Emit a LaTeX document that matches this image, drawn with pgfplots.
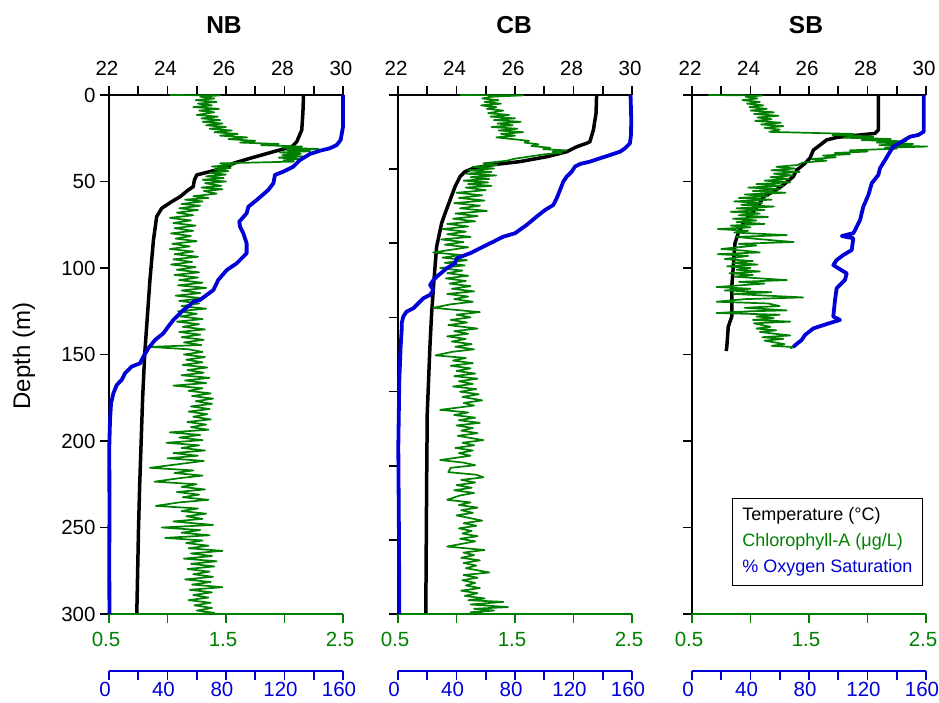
\documentclass[border=0pt]{standalone}
\usepackage{fontspec}
\setmainfont{Liberation Sans}
\usepackage{xcolor}
\usepackage{pgfplots}
\pgfplotsset{compat=1.18}

\definecolor{chl}{RGB}{0,128,0}
\definecolor{oxy}{RGB}{0,0,215}

\pgfplotsset{
  panel/.style={scale only axis, width=234pt, height=519pt,
    ymin=0, ymax=300, y dir=reverse, clip=false,
    /pgf/number format/assume math mode=true,
    tick label style={font=\fontsize{20.5}{24}\selectfont},
    major tick length=9pt, minor tick length=9pt},
  tempax/.style={panel, xmin=22, xmax=30,
    axis x line*=top, axis y line*=left, tick align=outside,
    axis line style={line width=1.8pt, black, -},
    tick style={line width=1.6pt, black},
    xtick={22,24,...,30}, minor xtick={23,25,27,29},
    xticklabel style={yshift=7pt, xshift=-2pt}},
  chlax/.style={panel, xmin=0.5, xmax=2.5,
    axis x line*=bottom, axis y line=none, tick align=outside,
    axis line style={line width=1.8pt, chl, -},
    tick style={line width=1.6pt, chl},
    xtick={0.5,1.5,2.5}, minor xtick={1,2},
    xticklabel style={chl, yshift=-6pt, xshift=-3pt}},
  oxax/.style={panel, xmin=0, xmax=160, hide axis},
  oxscale/.style={scale only axis, width=234pt, height=1pt,
    ymin=0, ymax=1, xmin=0, xmax=160,
    axis x line*=bottom, axis y line=none, tick align=outside,
    axis line style={line width=1.8pt, oxy, -},
    tick style={line width=1.6pt, oxy},
    major tick length=9pt, minor tick length=9pt,
    /pgf/number format/assume math mode=true,
    tick label style={font=\fontsize{20.5}{24}\selectfont},
    xtick={0,40,...,160}, minor xtick={20,60,100,140},
    xticklabel style={oxy, yshift=-1pt, xshift=-4pt, inner sep=1pt}},
  templine/.style={black, line width=3.5pt, line join=round},
  chlline/.style={chl, line width=1.7pt, line join=round},
  oxline/.style={oxy, line width=3.8pt, line join=round},
}

\begin{document}
\begin{tikzpicture}[x=1pt,y=1pt]

%%%%%%%%%%%%%%%% NB %%%%%%%%%%%%%%%%
\begin{axis}[tempax, at={(109pt,89pt)}, anchor=south west,
  ytick={0,50,...,300}, yticklabel style={xshift=-1pt}]
\addplot[templine] table {
28.65 0
28.63 10
28.59 20.2
28.42 27
28.25 29.9
27.62 32.8
26.82 36.6
26.25 39.5
26.02 41.8
25.45 44.3
25.00 46.2
24.92 49.1
24.88 53
24.71 54.9
24.43 58.8
24.14 61.7
23.80 65.5
23.63 70.3
23.52 83.8
23.40 106.9
23.32 126
23.22 150
23.15 175
23.10 200
23.05 225
23.01 250
22.98 275
22.95 300
};
\end{axis}

\begin{axis}[chlax, at={(109pt,89pt)}, anchor=south west]
\addplot[chlline] table {
1.02 0
1.45 0.2
1.28 1
1.40 2
1.24 3
1.42 4
1.26 5
1.38 6
1.22 7
1.44 8
1.27 9
1.40 10
1.25 11.5
1.43 12.5
1.29 13.5
1.45 14.5
1.30 15.5
1.47 16.5
1.33 17.5
1.50 18.5
1.36 19.5
1.55 20.5
1.40 21.5
1.60 22.5
1.45 23.5
1.68 24.5
1.52 25.5
1.75 26.5
1.62 27.5
1.95 28.3
1.80 29
2.15 29.8
1.98 30.5
2.29 31.2
2.02 31.8
2.22 32.5
1.96 33.2
2.14 34
1.98 34.8
2.16 35.5
1.95 36.2
2.12 37
1.99 37.8
2.08 38.5
1.45 39.5
1.56 40.5
1.38 41.3
1.54 42.2
1.40 43
1.52 44
1.36 45
1.50 46
1.33 47
1.48 48
1.30 49
1.50 50
1.32 51
1.46 52.5
1.29 53.5
1.47 54.5
1.31 55.5
1.42 57
1.22 58.5
1.35 59.5
1.15 60.5
1.30 61.5
1.12 63
1.28 64
1.10 65.5
1.26 66.5
1.08 68
1.22 69.5
1.02 71
1.20 72.5
1.05 74
1.24 75.5
1.06 77
1.22 78.5
1.03 80
1.20 81.5
1.07 83
1.25 84.5
1.04 86
1.19 87.5
1.02 89
1.22 90.5
1.06 92
1.26 93.5
1.05 95
1.21 96.5
1.03 98
1.24 99.5
1.08 101
1.27 102.5
1.06 104
1.26 105.5
1.10 107
1.30 108.5
1.09 110
1.33 111.5
1.12 113
1.28 114.5
1.07 116
1.31 117.5
1.10 119
1.27 120.5
1.12 122
1.33 123.5
1.09 125
1.25 126.5
1.11 128
1.30 129.5
1.08 131
1.27 132.5
1.13 134
1.32 135.5
1.10 137
1.28 138.5
1.12 140
1.31 141.5
1.14 143
1.29 144.5
0.85 145.6
1.18 147
1.30 148.5
1.14 150
1.32 151.5
1.16 153
1.30 154.5
1.13 156
1.34 157.5
1.17 159
1.31 160.5
1.12 162
1.36 163.5
1.15 165
1.33 166.5
1.05 168
1.30 169.5
1.18 171
1.37 172.5
1.21 174
1.39 175.5
1.24 177
1.38 178.5
1.20 180
1.36 181.5
1.18 183
1.34 184.5
1.22 186
1.37 187.5
1.17 189
1.33 190.5
1.20 192
1.35 193.5
1.02 195
1.28 196.5
1.10 198
1.30 199.5
0.99 201
1.27 202.5
1.12 204
1.32 205.5
1.05 207
1.26 208.5
1.00 210
1.31 211.5
1.14 213
0.85 215.5
1.22 217
1.06 218.5
1.30 220
1.10 221.5
0.89 223.5
1.25 225
1.12 226.5
1.32 228
1.08 229.5
1.27 231
1.13 232.5
1.35 234
1.10 235.5
0.90 237.5
1.26 239
1.12 240.5
1.33 242
1.16 243.5
1.30 245
1.05 246.5
1.39 248.5
0.95 250
1.28 251.5
1.12 253
1.36 254.5
0.98 256
1.30 257.5
1.16 259
1.35 260.5
1.18 262
1.47 263.5
1.20 265
1.38 266.5
1.14 268
1.42 269.5
1.20 271
1.40 272.5
1.17 274
1.36 275.5
1.22 277
1.39 278.5
1.15 280
1.37 281.5
1.21 283
1.47 284.5
1.19 286
1.38 287.5
1.22 289
1.35 290.5
1.18 292
1.37 293.5
1.23 295
1.38 296.5
1.25 298
1.40 299.3
1.28 300
};
\end{axis}

\begin{axis}[oxax, at={(109pt,89pt)}, anchor=south west]
\addplot[oxline] table {
160 0
160 18.3
158.4 26
155.7 28.9
151 30.8
144.3 32.2
137.4 34.1
130.6 37.6
126 41.4
119.2 44.3
113.5 46.2
112.4 51
108.9 54.9
101 60.7
95.3 64.6
94.1 68.4
89.1 73.2
89.6 76.1
91.8 79.9
94.1 85.7
94.1 91.5
87.3 97.3
80.5 101.2
74.7 106.9
71.4 112.7
66.8 115.6
62.2 118.5
57.6 119.5
55.4 121.4
50.8 124.3
47.4 127.2
44 130
40.5 133.9
37.1 137.8
31.5 141.6
26.9 146.4
23.5 151.3
21.2 155.1
15.5 157
10.9 160.9
8.7 164.7
5.3 167.6
3 172.4
1.4 178.2
0.7 187.9
0.2 203
0.3 240
0.2 270
0.3 300
};
\end{axis}

\begin{axis}[oxscale, at={(109pt,32pt)}, anchor=south west]
\end{axis}

%%%%%%%%%%%%%%%% CB %%%%%%%%%%%%%%%%
\begin{axis}[tempax, at={(398pt,89pt)}, anchor=south west,
  ytick={0,42.857,85.714,128.571,171.429,214.286,257.143,300},
  yticklabels={}]
\addplot[templine] table {
28.79 0
28.77 10.6
28.68 20.2
28.56 27
28.45 27.9
28.11 29.9
27.77 32.8
27.08 35.7
26.17 38.5
25.15 40.5
24.57 42.4
24.29 44.3
24.12 47.2
23.95 53
23.78 60.7
23.61 68.4
23.49 74.2
23.32 87.7
23.23 107
23.15 126
23.09 146
23.00 184
22.98 223
22.95 300
};
\end{axis}

\begin{axis}[chlax, at={(398pt,89pt)}, anchor=south west]
\addplot[chlline] table {
1.03 0
1.57 0.2
1.30 1
1.22 2
1.36 3
1.24 4
1.38 5
1.21 6
1.34 7
1.26 8
1.40 9
1.27 10.5
1.45 11.5
1.29 12.5
1.50 13.5
1.32 14.5
1.55 15.5
1.35 16.5
1.48 17.5
1.30 18.5
1.52 19.5
1.36 20.5
1.57 21.5
1.38 22.5
1.50 23.5
1.34 24.5
1.48 25.5
1.62 26.5
1.58 27.5
1.70 28.5
1.64 29.5
1.80 30.5
1.74 31.3
1.94 32
1.82 32.8
1.90 33.5
1.75 34.3
1.63 35.5
1.50 36.8
1.43 38
1.23 39.5
1.35 40.5
1.14 41.5
1.32 42.5
1.10 43.5
1.30 44.5
1.08 45.5
1.34 46.5
1.12 47.5
1.28 48.5
1.06 49.5
1.27 50.5
1.10 51.5
1.30 52.5
1.08 53.5
1.25 55
1.00 56.5
1.22 58
1.02 59.5
1.24 61
0.98 62.5
1.20 64
1.03 65.5
1.26 67
0.99 68.5
1.18 70
0.97 71.5
1.16 73
0.92 74.5
1.10 76
0.88 77.5
1.08 79
0.92 80.5
1.12 82
0.87 83.5
1.06 85
0.90 86.5
1.10 88
0.80 91
1.04 92.5
0.88 94
1.09 95.5
0.90 97
1.07 98.5
0.86 100
1.05 101.5
0.92 103
1.10 104.5
0.91 106
1.08 107.5
0.94 109
1.12 110.5
0.96 112
1.15 113.5
0.92 115
1.10 116.5
0.98 118
1.14 119.5
0.95 121
0.80 123
1.20 125.5
1.00 127
1.12 128.5
0.95 130
1.09 131.5
0.93 133
1.18 135
0.98 136.5
1.10 138
0.92 139.5
1.08 141
0.96 142.5
1.13 144
0.99 145.5
1.15 147
0.96 148.5
0.82 150.5
1.08 152
0.97 153.5
1.14 155
0.95 156.5
1.12 158
1.00 159.5
1.16 161
0.98 162.5
1.18 164
1.02 165.5
1.14 167
0.97 168.5
1.17 170
1.03 171.5
1.19 173
1.05 174.5
1.22 176.5
1.06 178
1.15 179.5
0.86 182
1.10 183.5
0.98 185
1.16 186.5
1.02 188
1.20 189.5
1.00 191
1.14 192.5
1.04 194
1.18 195.5
1.01 197
1.23 199.5
1.05 201
1.15 202.5
0.99 204
1.14 205.5
1.02 207
1.12 208.5
0.86 211
1.06 212.5
1.16 214
0.95 215.5
0.93 218
1.17 219.5
1.23 221
1.04 222.5
1.16 224
1.00 225.5
1.13 227
0.98 228.5
1.15 230
1.03 231.5
0.92 234
1.12 235.5
1.02 237
1.18 238.5
1.04 240
1.14 241.5
1.00 243
1.22 246
1.06 247.5
1.17 249
1.02 250.5
1.13 252
1.05 253.5
1.18 255
1.03 256.5
1.16 258
0.92 261
1.24 263
1.06 264.5
1.15 266
1.04 267.5
1.20 269
1.06 270.5
1.17 272
1.08 273.5
1.28 276
1.06 277.5
1.18 279
1.05 280.5
1.16 282
1.08 283.5
1.20 285
1.04 286.5
1.18 288
1.07 289.5
1.24 291
1.10 292
1.40 293
1.12 294.5
1.44 296
1.15 297
1.32 298
1.12 299
1.25 300
};
\end{axis}

\begin{axis}[oxax, at={(398pt,89pt)}, anchor=south west]
\addplot[oxline] table {
159 0
159.5 14.5
159.3 23
158.6 27.9
155.2 30.8
151.8 32.8
145 34.7
138.1 36.6
131.3 38.5
124.4 39.9
121 41.4
118.8 44.3
115.3 47.2
113 50.1
110.8 54.9
108.5 59.7
106.2 63.6
100.5 66.5
94.8 70.3
88 75.1
80 79.9
72 81.9
65.2 84.8
56.1 88.6
49.2 91.5
40.1 94.4
39 97.3
33.3 100.2
26.5 105
24.2 107
21.9 109.8
24.2 112.7
21.9 115.6
17.3 117.5
15 119.5
10.5 123.3
5.9 125.2
3.6 128.1
2.5 132
2.5 135.8
1.8 145.5
0.9 164.7
0.2 203.3
0.7 261
0.9 300
};
\end{axis}

\begin{axis}[oxscale, at={(398pt,32pt)}, anchor=south west]
\end{axis}

%%%%%%%%%%%%%%%% SB %%%%%%%%%%%%%%%%
\begin{axis}[tempax, at={(692pt,89pt)}, anchor=south west,
  ytick={0,50,...,300}, yticklabels={}]
\addplot[templine] table {
28.37 0
28.37 20.2
28.26 22.2
26.95 24.5
26.60 26
26.38 28.9
26.15 31.8
26.03 36.6
25.86 39.5
25.58 43.4
25.46 47.2
25.12 52
24.78 55.9
24.44 58.8
24.32 62.6
24.04 68.4
23.81 72.3
23.58 79.9
23.47 85.7
23.41 99.2
23.36 110.8
23.36 128.1
23.24 133.9
23.19 145.5
23.17 148
};
\end{axis}

\begin{axis}[chlax, at={(692pt,89pt)}, anchor=south west]
\addplot[chlline] table {
0.64 0
1.10 0.3
0.96 1
1.06 2
0.93 3
1.08 4
0.97 5
1.11 6
0.99 7
1.14 8
1.00 9
1.20 10
1.03 11
1.24 12
1.06 13
1.18 14
1.04 15
1.26 16
1.09 17
1.28 18
1.12 19
1.25 20
1.16 21.3
1.88 22.5
1.70 23.2
2.05 24
1.80 24.7
2.20 25.4
1.95 26.1
2.33 26.8
2.08 27.5
2.39 28.3
2.10 29
2.51 29.8
2.15 30.5
2.25 31
1.85 32
2.00 32.7
1.72 33.5
1.85 34.2
1.62 35
1.73 36
1.52 37
1.65 38
1.45 39
1.40 40.5
1.22 41.5
1.38 42.5
1.18 43.5
1.42 44.5
1.20 45.5
1.36 46.5
1.17 47.5
1.33 48.5
1.12 49.5
1.34 50.5
1.05 51.5
1.28 52.5
0.98 53.5
1.25 54.5
1.02 55.5
1.30 56.5
0.95 57.5
1.15 58.5
0.90 59.5
1.18 60.5
0.86 61.5
1.10 62.5
0.92 63.5
1.20 64.5
0.88 65.5
1.12 66.5
0.83 67.5
1.08 68.5
0.90 69.5
1.15 70.5
0.85 71.5
1.05 72.5
0.88 73.5
1.12 74.5
0.83 75.5
1.00 76.5
0.72 77.5
0.98 78.5
0.86 79.5
1.31 81
0.88 82
1.02 83
1.37 85
0.90 86
1.05 87
0.75 89
0.95 90
1.08 91
0.72 92
0.98 93
0.78 94.8
1.02 96
0.85 97
1.06 98
0.80 99
1.00 100
0.88 101
1.08 102
0.82 103
1.02 104
0.86 105
1.31 107
0.90 108
1.12 109
0.71 111
1.00 112
0.78 113
1.18 114
0.85 115
1.45 117
0.95 118
0.71 119.5
1.15 120.5
1.25 122
0.95 123
1.31 124.5
1.00 125
0.71 126
1.25 127
1.05 128
1.20 129
1.02 130
1.34 131
1.03 132
1.17 134
1.05 135
1.22 136
1.08 137
1.34 139
1.10 140
1.28 141
1.12 142
1.29 144
1.18 145
1.37 145.7
1.34 146.5
};
\end{axis}

\begin{axis}[oxax, at={(692pt,89pt)}, anchor=south west]
\addplot[oxline] table {
158.5 0
158.5 21.2
154.7 23.1
149.1 24.1
143.4 27
137.6 29.9
135.4 32.8
132 37.6
128.5 42.4
127.4 46.2
122.9 51
120.6 57.8
117.1 64.6
114.9 72.3
111.5 78
110.3 79.9
102.4 81.5
110.3 82.8
109.2 89.6
103.5 92.5
98.9 95.4
96.6 98.3
100.1 100.2
105.8 103.1
104.6 106.9
98.9 111.7
97.8 118.5
96.6 128.1
101.2 130
92.1 132.4
83 134.9
77.3 138.7
75 141.6
69.3 145.5
};
\node[draw=black, line width=0.8pt, anchor=north west, align=left,
  inner xsep=10pt, inner ysep=9pt,
  font=\fontsize{18}{26}\selectfont]
  at (axis cs:27.35,233) {Temperature (°C)\\
  \textcolor{chl}{Chlorophyll-A (μg/L)}\\
  \textcolor{oxy}{\% Oxygen Saturation}};
\end{axis}

\begin{axis}[oxscale, at={(692pt,32pt)}, anchor=south west]
\end{axis}

%%%% titles and depth label
\node[font=\bfseries\fontsize{24.5}{28}\selectfont] at (224,678) {NB};
\node[font=\bfseries\fontsize{24.5}{28}\selectfont] at (514,678) {CB};
\node[font=\bfseries\fontsize{24.5}{28}\selectfont] at (806,678) {SB};
\node[rotate=90, font=\fontsize{24}{28}\selectfont] at (24,347) {Depth (m)};

\pgfresetboundingbox
\path[use as bounding box] (0,0) rectangle (939,703);
\end{tikzpicture}
\end{document}
